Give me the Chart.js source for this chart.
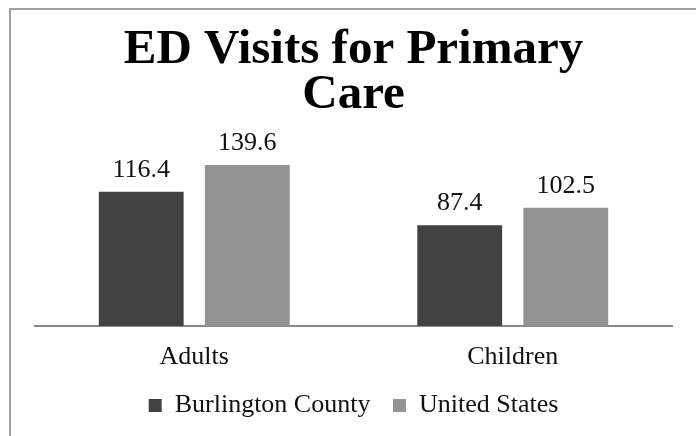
<!DOCTYPE html>
<html>
<head>
<meta charset="utf-8">
<script src="https://cdn.jsdelivr.net/npm/chart.js@4.4.1/dist/chart.umd.min.js"></script>
<style>
  html, body { margin: 0; padding: 0; background: #fff; overflow: hidden; }
  #wrap { position: relative; width: 696px; height: 436px; }
  #frame { position: absolute; left: 9px; top: 8px; width: 700px; height: 440px;
           border-left: 2px solid #a0a0a0; border-top: 2px solid #a0a0a0; pointer-events: none; }
  canvas { position: absolute; left: 0; top: 0; }
</style>
</head>
<body>
<div id="wrap">
  <canvas id="c" width="696" height="436"></canvas>
  <div id="frame"></div>
</div>
<script>
const titleLines = ['ED Visits for Primary', 'Care'];
const categories = ['Adults', 'Children'];
const seriesNames = ['Burlington County', 'United States'];
const burlingtonValues = [116.4, 87.4];
const usValues = [139.6, 102.5];
const seriesColors = ['#424242', '#939393'];

const FONT = "'Liberation Serif', 'Times New Roman', serif";
Chart.defaults.font.family = FONT;
Chart.defaults.color = '#000';

const valueLabels = {
  id: 'valueLabels',
  afterDatasetsDraw(chart) {
    const ctx = chart.ctx;
    ctx.save();
    ctx.font = '26px ' + FONT;
    ctx.fillStyle = '#111';
    ctx.textAlign = 'center';
    ctx.textBaseline = 'alphabetic';
    chart.data.datasets.forEach((ds, di) => {
      const meta = chart.getDatasetMeta(di);
      meta.data.forEach((bar, i) => {
        ctx.fillText(ds.data[i].toFixed(1), bar.x, bar.y - 15);
      });
    });
    ctx.restore();
  }
};

new Chart(document.getElementById('c'), {
  type: 'bar',
  data: {
    labels: categories,
    datasets: [
      { label: seriesNames[0], data: burlingtonValues, backgroundColor: seriesColors[0] },
      { label: seriesNames[1], data: usValues, backgroundColor: seriesColors[1] }
    ]
  },
  options: {
    responsive: false,
    animation: false,
    devicePixelRatio: 1,
    layout: { padding: { left: 35, right: 24, top: 0, bottom: 7.5 } },
    datasets: { bar: { categoryPercentage: 0.666, barPercentage: 0.8 } },
    scales: {
      x: {
        grid: { display: false, drawTicks: false },
        border: { display: true, color: '#8a8a8a', width: 2 },
        ticks: { font: { size: 26, lineHeight: 1 }, color: '#111', padding: 18 },
        afterFit(scale) { scale.height = 44; }
      },
      y: { display: false, min: 0, max: 150 }
    },
    plugins: {
      title: {
        display: true,
        text: titleLines,
        color: '#000',
        font: { size: 49, weight: 'bold', lineHeight: 45 / 49 },
        padding: { top: 28, bottom: 35 }
      },
      legend: {
        position: 'bottom',
        labels: { boxWidth: 13, boxHeight: 13, padding: 22.5, color: '#111', font: { size: 26 } }
      },
      tooltip: { enabled: false }
    }
  },
  plugins: [valueLabels]
});
</script>
</body>
</html>
